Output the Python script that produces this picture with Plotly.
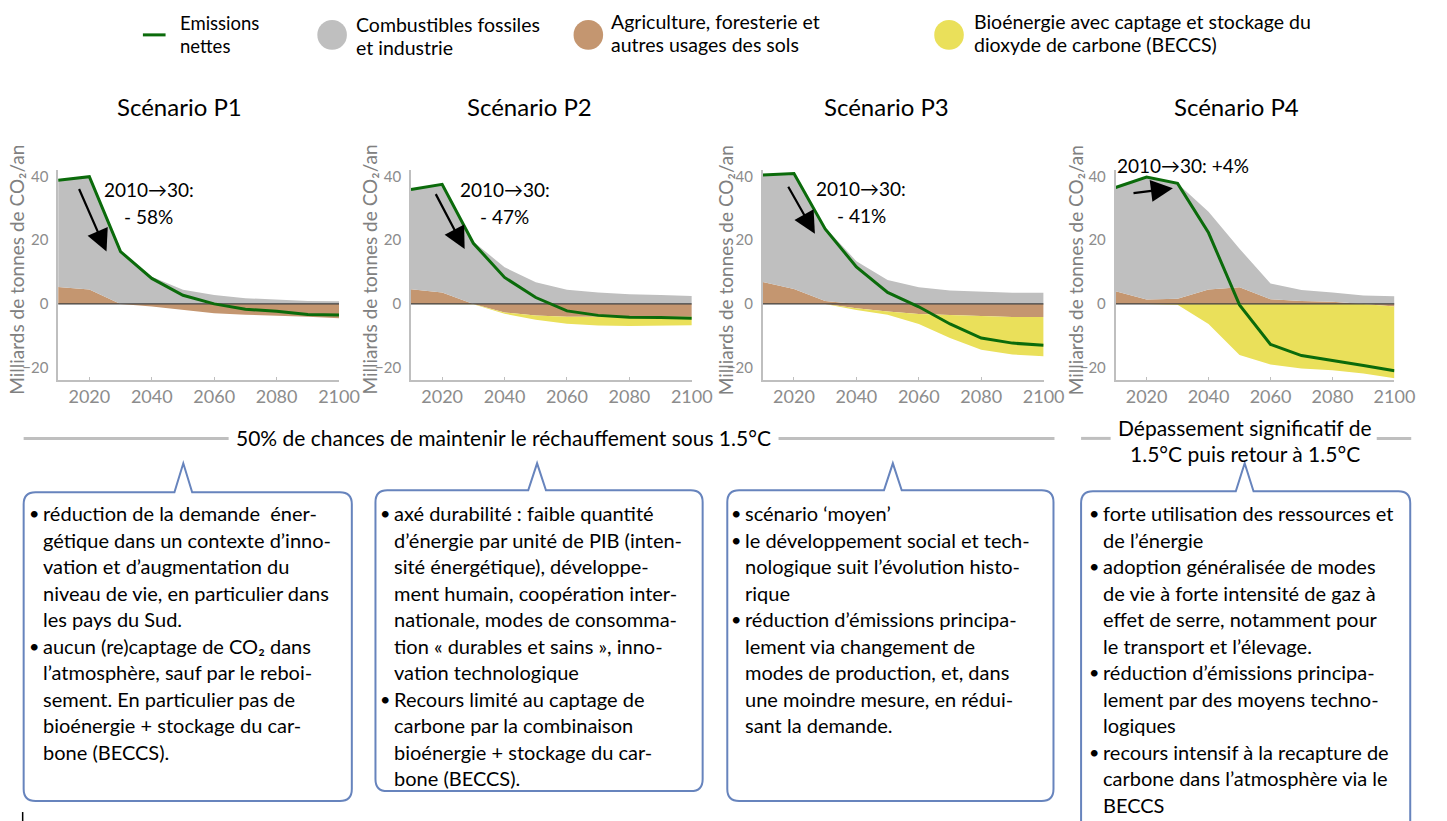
import plotly.graph_objects as go

W, H = 1447, 821
FONT = "Lato"

years = [2010, 2020, 2030, 2040, 2050, 2060, 2070, 2080, 2090, 2100]

# --- Scenario P1 (Gt CO2 / yr)
p1_fossil = [33.4, 35.4, 16.4, 8.5, 4.4, 2.8, 1.8, 1.25, 0.9, 0.8]
p1_afolu = [5.3, 4.5, 0.0, -0.8, -1.9, -2.9, -3.4, -3.6, -4.0, -4.5]
p1_beccs = [0, 0, 0, 0, 0, 0, 0, 0, 0, 0]
p1_net = [38.75, 39.9, 16.4, 8.0, 2.7, 0.0, -1.7, -2.3, -3.3, -3.5]

# --- Scenario P2
p2_fossil = [31.3, 33.9, 19.5, 11.5, 6.8, 4.4, 3.6, 3.0, 2.8, 2.5]
p2_afolu = [4.6, 3.6, 0.0, -2.7, -3.6, -4.0, -4.0, -4.1, -4.1, -4.0]
p2_beccs = [0, 0, -0.1, -0.4, -1.4, -2.25, -2.8, -2.8, -2.8, -2.7]
p2_net = [35.9, 37.5, 19.0, 8.3, 2.0, -2.2, -3.6, -4.2, -4.3, -4.5]

# --- Scenario P3
p3_fossil = [33.5, 36.2, 23.1, 13.4, 7.5, 5.2, 4.2, 3.8, 3.5, 3.5]
p3_afolu = [6.9, 4.7, 0.9, -1.35, -2.4, -3.2, -3.5, -3.8, -4.1, -4.1]
p3_beccs = [0, 0, 0, -0.55, -1.0, -3.1, -7.2, -10.6, -11.8, -12.3]
p3_net = [40.4, 40.9, 23.5, 11.6, 3.6, -0.9, -6.3, -10.7, -12.3, -13.0]

# --- Scenario P4
p4_fossil = [32.5, 38.45, 36.15, 24.35, 12.1, 4.95, 3.45, 2.9, 2.6, 2.4]
p4_afolu = [4.0, 1.35, 1.65, 4.55, 5.2, 1.45, 0.9, 0.7, 0.0, -0.8]
p4_beccs = [0, 0, -0.3, -6.3, -16.0, -19.0, -20.3, -20.8, -21.8, -22.5]
p4_net = [36.5, 39.8, 37.8, 22.3, -0.3, -12.7, -16.2, -17.7, -19.3, -21.0]

scenario_titles = ["Scénario P1", "Scénario P2", "Scénario P3", "Scénario P4"]
change_labels = [["2010→30:", "- 58%"], ["2010→30:", "- 47%"], ["2010→30:", "- 41%"], ["2010→30: +4%"]]
x_tickvals = [2020, 2040, 2060, 2080, 2100]
y_tickvals = [-20, 0, 20, 40]

legend_labels = [["Emissions", "nettes"], ["Combustibles fossiles", "et industrie"],
                 ["Agriculture, foresterie et", "autres usages des sols"],
                 ["Bioénergie avec captage et stockage du", "dioxyde de carbone (BECCS)"]]

box_texts = [
    [["réduction de la demande  éner-", "gétique dans un contexte d’inno-",
      "vation et d’augmentation du", "niveau de vie, en particulier dans",
      "les pays du Sud."],
     ["aucun (re)captage de CO₂ dans", "l’atmosphère, sauf par le reboi-",
      "sement. En particulier pas de", "bioénergie + stockage du car-",
      "bone (BECCS)."]],
    [["axé durabilité : faible quantité", "d’énergie par unité de PIB (inten-",
      "sité énergétique), développe-", "ment humain, coopération inter-",
      "nationale, modes de consomma-", "tion « durables et sains », inno-",
      "vation technologique"],
     ["Recours limité au captage de", "carbone par la combinaison",
      "bioénergie + stockage du car-", "bone (BECCS)."]],
    [["scénario ‘moyen’"],
     ["le développement social et tech-", "nologique suit l’évolution histo-", "rique"],
     ["réduction d’émissions principa-", "lement via changement de",
      "modes de production, et, dans", "une moindre mesure, en rédui-",
      "sant la demande."]],
    [["forte utilisation des ressources et", "de l’énergie"],
     ["adoption généralisée de modes", "de vie à forte intensité de gaz à",
      "effet de serre, notamment pour", "le transport et l’élevage."],
     ["réduction d’émissions principa-", "lement par des moyens techno-", "logiques"],
     ["recours intensif à la recapture de", "carbone dans l’atmosphère via le", "BECCS"]],
]

GRAY = "#bfbfbf"
BROWN = "#c49670"
YELLOW = "#eae05a"
GREEN = "#0b6b0b"
AXIS = "#bfbfbf"
TICK = "#8c8c8c"
BOXC = "#6784bd"


def X(px):
    return px / W


def Y(py):
    return 1 - py / H


def text_ann(px, py, text, size, color="black", xanchor="center", **kw):
    d = dict(x=X(px), y=Y(py), xref="paper", yref="paper", text=text, showarrow=False,
             font=dict(family=FONT, size=size, color=color), xanchor=xanchor, yanchor="middle")
    d.update(kw)
    return d


panels = [
    (p1_fossil, p1_afolu, p1_beccs, p1_net),
    (p2_fossil, p2_afolu, p2_beccs, p2_net),
    (p3_fossil, p3_afolu, p3_beccs, p3_net),
    (p4_fossil, p4_afolu, p4_beccs, p4_net),
]
x_left = [59, 417, 774, 1132]
x_right = [344, 702, 1059, 1415]
y_top_px, y_bot_px = 167.6, 378
y_range = [-23.75, 42]

fig = go.Figure()
annotations = []
shapes = []

arrows = [  # tail (year, value) -> head (year, value)
    ((2016.5, 36.5), (2025.5, 16.4)),
    ((2017.7, 34.9), (2027.2, 17.2)),
    ((2017.9, 37.2), (2026.7, 22.0)),
    ((2015.3, 34.7), (2028.5, 36.3)),
]
label_pos = [(151, 187, 214), (512, 187, 214), (874, 186, 213), (1200, 163, None)]
title_cx = [182, 537, 900, 1255]
ytitle_cx = [16, 374, 736, 1091]

layout_axes = {}
for i, (fossil, afolu, beccs, net) in enumerate(panels):
    n = "" if i == 0 else str(i + 1)
    xa, ya = "x" + n, "y" + n
    pos = [max(a, 0) for a in afolu]
    neg = [min(a, 0) for a in afolu]
    gray_top = [p + f for p, f in zip(pos, fossil)]
    yel_bot = [m + b for m, b in zip(neg, beccs)]
    zero = [0 for _ in years]
    common = dict(x=years, mode="lines", xaxis=xa, yaxis=ya, showlegend=False, hoverinfo="skip")
    fig.add_trace(go.Scatter(y=zero, line=dict(width=0), **common))
    fig.add_trace(go.Scatter(y=pos, fill="tonexty", fillcolor=BROWN, line=dict(width=0), **common))
    fig.add_trace(go.Scatter(y=gray_top, fill="tonexty", fillcolor=GRAY, line=dict(width=0), **common))
    fig.add_trace(go.Scatter(y=zero, line=dict(width=0), **common))
    fig.add_trace(go.Scatter(y=neg, fill="tonexty", fillcolor=BROWN, line=dict(width=0), **common))
    fig.add_trace(go.Scatter(y=yel_bot, fill="tonexty", fillcolor=YELLOW, line=dict(width=0), **common))
    fig.add_trace(go.Scatter(y=zero, line=dict(width=1.2, color="#404040"), **common))
    fig.add_trace(go.Scatter(y=net, line=dict(width=3, color=GREEN), **common))

    layout_axes["xaxis" + n] = dict(
        domain=[X(x_left[i]), X(x_right[i])], range=[2010, 2100], anchor=ya,
        showline=True, linecolor=AXIS, linewidth=1.5, ticks="inside", ticklen=3,
        tickcolor=AXIS, tickvals=x_tickvals, tickfont=dict(family=FONT, size=18, color=TICK),
        showgrid=False, zeroline=False, fixedrange=True)
    layout_axes["yaxis" + n] = dict(
        domain=[Y(y_bot_px), Y(y_top_px)], range=y_range, anchor=xa,
        showline=True, linecolor=AXIS, linewidth=1.5, ticks="outside", ticklen=5,
        tickcolor="rgba(0,0,0,0)", tickvals=y_tickvals,
        tickfont=dict(family=FONT, size=15, color=TICK),
        showgrid=False, zeroline=False, fixedrange=True)

    (tx, ty), (hx, hy) = arrows[i]
    annotations.append(dict(x=hx, y=hy, ax=tx, ay=ty, xref=xa, yref=ya, axref=xa, ayref=ya,
                            text="", showarrow=True, arrowhead=2, arrowsize=2.0,
                            arrowwidth=2.2, arrowcolor="black", standoff=0))
    lx, ly1, ly2 = label_pos[i]
    annotations.append(text_ann(lx, ly1, change_labels[i][0], 19))
    if ly2 is not None:
        annotations.append(text_ann(lx, ly2, change_labels[i][1], 19))
    annotations.append(text_ann(title_cx[i], 104, scenario_titles[i], 24))
    annotations.append(text_ann(ytitle_cx[i], 268, "Milliards de tonnes de CO₂/an", 19, color="#808080",
                                textangle=-90))

# ---- legend (drawn manually)
shapes.append(dict(type="line", xref="paper", yref="paper", x0=X(145), x1=X(168), y0=Y(32), y1=Y(32),
                   line=dict(color=GREEN, width=3)))
for cx, col in [(337, GRAY), (597, BROWN), (963, YELLOW)]:
    shapes.append(dict(type="circle", xref="paper", yref="paper", x0=X(cx - 15), x1=X(cx + 15),
                       y0=Y(47), y1=Y(17), fillcolor=col, line=dict(width=0)))
for lx, (l1, l2), y1, y2, sz in [(181, legend_labels[0], 20, 43, 18.5), (359, legend_labels[1], 22, 45, 19.5),
                                 (618, legend_labels[2], 19, 42, 19.5), (986, legend_labels[3], 19, 42, 19.5)]:
    annotations.append(text_ann(lx, y1, l1, sz, xanchor="left"))
    annotations.append(text_ann(lx, y2, l2, sz, xanchor="left"))

# ---- separators
for x0, x1 in [(24, 232), (790, 1070), (1097, 1127), (1397, 1432)]:
    shapes.append(dict(type="line", xref="paper", yref="paper", x0=X(x0), x1=X(x1), y0=Y(437), y1=Y(437),
                       line=dict(color=GRAY, width=3)))
annotations.append(text_ann(511, 436, "50% de chances de maintenir le réchauffement sous 1.5°C", 21))
annotations.append(text_ann(1263, 426, "Dépassement significatif de", 21))
annotations.append(text_ann(1263, 452, "1.5°C puis retour à 1.5°C", 21))

# ---- callout boxes
boxes = [  # x0, x1, y0, y1, apex_x
    (24, 357, 491, 801, 186),
    (381, 713, 489, 791, 545),
    (738, 1069, 489, 801, 906),
    (1097, 1431, 490, 835, 1263),
]
bullet_x = [35, 391, 747, 1110]
text_x = [42, 398, 754, 1117]


def P(px, py):
    return f"{X(px):.5f},{Y(py):.5f}"


for i, (x0, x1, y0, y1, ax_) in enumerate(boxes):
    r = 12
    path = (f"M {P(x0 + r, y0)} L {P(ax_ - 9, y0)} L {P(ax_, 462)} L {P(ax_ + 9, y0)} "
            f"L {P(x1 - r, y0)} Q {P(x1, y0)} {P(x1, y0 + r)} L {P(x1, y1 - r)} "
            f"Q {P(x1, y1)} {P(x1 - r, y1)} L {P(x0 + r, y1)} Q {P(x0, y1)} {P(x0, y1 - r)} "
            f"L {P(x0, y0 + r)} Q {P(x0, y0)} {P(x0 + r, y0)} Z")
    shapes.append(dict(type="path", xref="paper", yref="paper", path=path,
                       line=dict(color=BOXC, width=2), fillcolor="white"))
    yline = 512
    for bullet in box_texts[i]:
        annotations.append(text_ann(bullet_x[i], yline, "•", 18))
        for line in bullet:
            annotations.append(text_ann(text_x[i], yline, line, 20, xanchor="left"))
            yline += 26.6

shapes.append(dict(type="line", xref="paper", yref="paper", x0=X(23), x1=X(23), y0=Y(812), y1=Y(821),
                   line=dict(color="black", width=1.5)))

fig.update_layout(
    width=W, height=H, autosize=False, margin=dict(l=0, r=0, t=0, b=0),
    paper_bgcolor="white", plot_bgcolor="rgba(0,0,0,0)",
    font=dict(family=FONT), showlegend=False,
    annotations=annotations, shapes=shapes, **layout_axes)

fig.write_html("out.html", config={"displayModeBar": False},
               post_script="document.body.style.margin='0px';document.body.style.overflow='hidden';"
                           "document.documentElement.style.overflow='hidden';")
